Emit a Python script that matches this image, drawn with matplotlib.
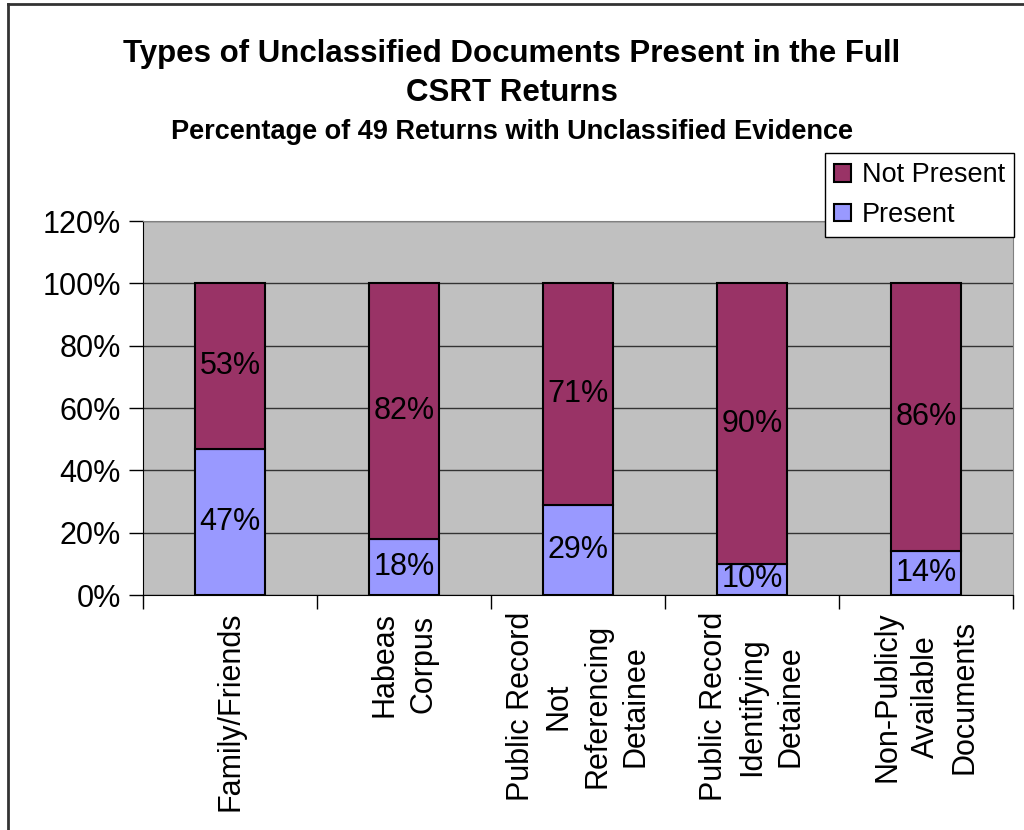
import numpy as np
import matplotlib
matplotlib.use("Agg")
import matplotlib.pyplot as plt
from matplotlib.lines import Line2D

# ── data ─────────────────────────────────────────────────────────────────
categories = [
    "Family/Friends",
    "Habeas\nCorpus",
    "Public Record\nNot\nReferencing\nDetainee",
    "Public Record\nIdentifying\nDetainee",
    "Non-Publicly\nAvailable\nDocuments",
]
present     = [47, 18, 29, 10, 14]
not_present = [53, 82, 71, 90, 86]
yticks      = [0, 20, 40, 60, 80, 100, 120]

# ── style ────────────────────────────────────────────────────────────────
plt.rcParams["font.family"] = ["Liberation Sans", "DejaVu Sans"]
C_PRESENT = "#9999FF"
C_NOT     = "#993366"
C_BG      = "#C0C0C0"
FS        = 22

W, H = 1024, 830
fig = plt.figure(figsize=(W / 100, H / 100), dpi=100)
ax = fig.add_axes([143 / W, 1 - 595 / H, (1013 - 143) / W, (595 - 221) / H])
ax.set_facecolor(C_BG)

x = np.arange(len(categories))
b1 = ax.bar(x, present, width=0.4, color=C_PRESENT, edgecolor="black",
            linewidth=1.5, label="Present", zorder=3)
b2 = ax.bar(x, not_present, width=0.4, bottom=present, color=C_NOT,
            edgecolor="black", linewidth=1.5, label="Not Present", zorder=3)

for xi, p, n in zip(x, present, not_present):
    ax.text(xi, p / 2, f"{p}%", ha="center", va="center", fontsize=FS, zorder=4)
    ax.text(xi, p + n / 2, f"{n}%", ha="center", va="center", fontsize=FS, zorder=4)

ax.set_xlim(-0.5, len(categories) - 0.5)
ax.set_ylim(0, 120)
ax.set_yticks(yticks)
ax.set_yticklabels([f"{t}%" for t in yticks], fontsize=FS)
ax.yaxis.grid(True, color="#333333", linewidth=1, zorder=0)
ax.tick_params(axis="y", length=10, width=1, pad=6)

# category ticks at boundaries, labels at centers
ax.set_xticks(np.arange(len(categories) + 1) - 0.5)
ax.set_xticklabels([])
ax.tick_params(axis="x", which="major", direction="out", length=10, width=1)
ax.set_xticks(x, minor=True)
ax.set_xticklabels(categories, minor=True, rotation=90, fontsize=FS,
                   ha="center", va="top", multialignment="center",
                   linespacing=1.35)
ax.tick_params(axis="x", which="minor", length=0, pad=12)

for side in ["top", "right"]:
    ax.spines[side].set_color("#808080")
ax.spines["left"].set_color("black")
ax.spines["bottom"].set_color("black")

leg = ax.legend(handles=[b2, b1], labels=["Not Present", "Present"],
                loc="upper left", bbox_to_anchor=(825 / W, 1 - 153 / H),
                bbox_transform=fig.transFigure, fontsize=19.5, frameon=True,
                fancybox=False, edgecolor="black", framealpha=1,
                handlelength=0.6, handleheight=0.6, handletextpad=0.4,
                labelspacing=0.5, borderpad=0.35, borderaxespad=0)
leg.get_frame().set_linewidth(1)

fig.text(0.5, 1 - 54 / H, "Types of Unclassified Documents Present in the Full",
         ha="center", va="center", fontsize=22.5, fontweight="bold")
fig.text(0.5, 1 - 93 / H, "CSRT Returns", ha="center", va="center",
         fontsize=22.5, fontweight="bold")
fig.text(0.5, 1 - 132 / H, "Percentage of 49 Returns with Unclassified Evidence",
         ha="center", va="center", fontsize=19.5, fontweight="bold")

# chart-area border (left and top visible)
fig.add_artist(Line2D([8 / W, 8 / W], [0, 1 - 4 / H], color="#333333",
                      linewidth=2, transform=fig.transFigure))
fig.add_artist(Line2D([8 / W, 1], [1 - 4 / H, 1 - 4 / H], color="#333333",
                      linewidth=2, transform=fig.transFigure))

fig.savefig("out.png", dpi=100, facecolor="white")
